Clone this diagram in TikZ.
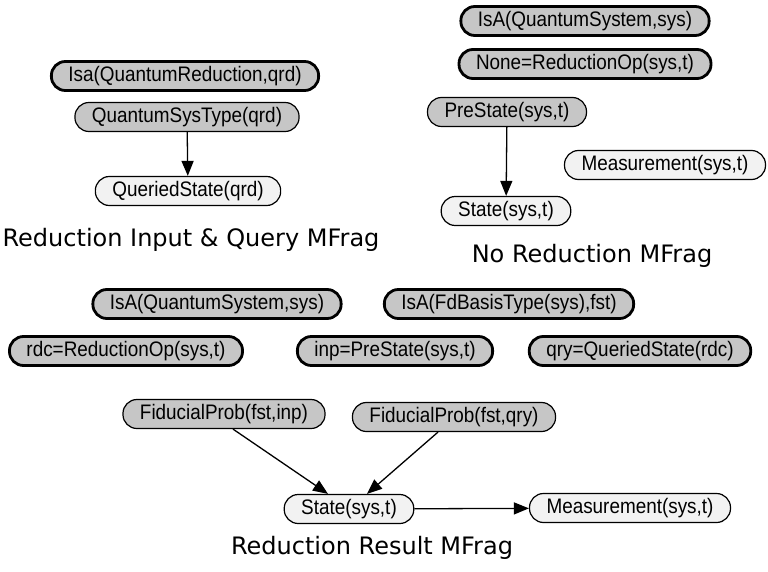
\documentclass[tikz,border=0pt]{standalone}
\usepackage{fontspec}
\setmainfont[FakeStretch=0.9]{Liberation Sans}
\newfontfamily\capfont{DejaVu Sans}
\usetikzlibrary{arrows.meta}

\begin{document}
\begin{tikzpicture}[x=1pt,y=-1pt,
    mfrag/.style={draw,rounded corners=14pt,minimum height=29pt,inner xsep=17pt,inner ysep=0pt,
      font=\fontsize{21}{21}\selectfont},
    ctx/.style={mfrag,line width=2.8pt,fill=gray!45},
    inp/.style={mfrag,line width=1.2pt,fill=gray!45},
    res/.style={mfrag,line width=1.2pt,fill=gray!10},
    title/.style={font=\capfont\fontsize{24}{24}\selectfont},
    link/.style={line width=1.3pt,-{Triangle[length=15pt,width=12pt]}}]
    \useasboundingbox (0,0) rectangle (768,572);

    % Reduction Input & Query MFrag
    \node[ctx] (isaqr) at (185,76) {Isa(QuantumReduction,qrd)};
    \node[inp] (qst) at (187,117) {QuantumSysType(qrd)};
    \node[res] (qs) at (188,191) {QueriedState(qrd)};
    \node[title] (cap1) at (191,240) {Reduction Input \& Query MFrag};
    \draw[link] (qst) -- (qs);

    % No Reduction MFrag
    \node[ctx] (isaqs) at (585,21) {IsA(QuantumSystem,sys)};
    \node[ctx] (none) at (585,64) {None=ReductionOp(sys,t)};
    \node[inp] (pre) at (507,112) {PreState(sys,t)};
    \node[res] (meas) at (665,165) {Measurement(sys,t)};
    \node[res] (st) at (506,211) {State(sys,t)};
    \node[title] (cap2) at (592,256) {No Reduction MFrag};
    \draw[link] (pre) -- (st);

    % Reduction Result MFrag
    \node[ctx] (isasys) at (217,304) {IsA(QuantumSystem,sys)};
    \node[ctx] (isafd) at (509,304) {IsA(FdBasisType(sys),fst)};
    \node[ctx] (rdc) at (126,351) {rdc=ReductionOp(sys,t)};
    \node[ctx] (inpst) at (395,351) {inp=PreState(sys,t)};
    \node[ctx] (qry) at (640,351) {qry=QueriedState(rdc)};
    \node[inp] (fpi) at (224,414) {FiducialProb(fst,inp)};
    \node[inp] (fpq) at (454,417) {FiducialProb(fst,qry)};
    \node[res] (rst) at (349,509) {State(sys,t)};
    \node[res] (rmeas) at (630,508) {Measurement(sys,t)};
    \node[title] (cap3) at (372,548) {Reduction Result MFrag};
    \draw[link] ([xshift=9pt]fpi.south) -- ([xshift=-21pt]rst.north);
    \draw[link] ([xshift=-16pt]fpq.south) -- ([xshift=18pt]rst.north);
    \draw[link] (rst) -- (rmeas);
\end{tikzpicture}
\end{document}
